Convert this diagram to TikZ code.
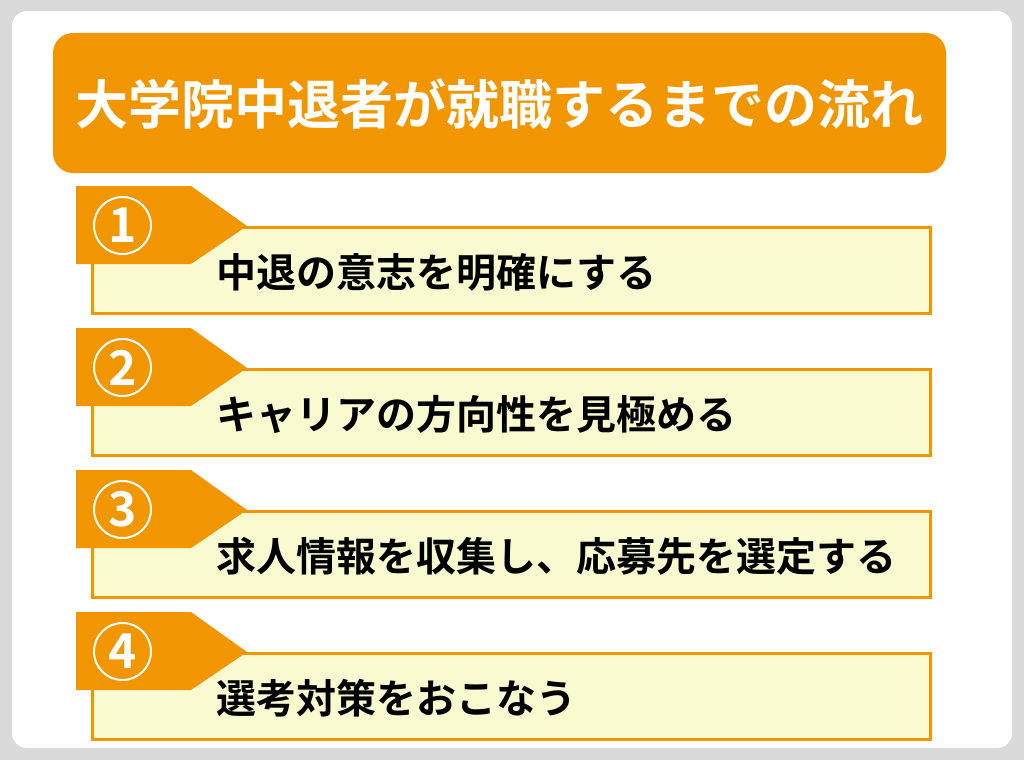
\documentclass[tikz,border=0pt]{standalone}
\usepackage{fontspec}
\newfontfamily\cjk{Noto Sans CJK JP}[BoldFont={Noto Sans CJK JP Bold}]
\definecolor{bgray}{HTML}{D9D9D9}
\definecolor{orng}{HTML}{F29600}
\definecolor{lyel}{HTML}{FAFAD0}
\tikzset{
  tabshape/.style={fill=orng, draw=none},
  stepbox/.style={fill=lyel, draw=orng, line width=3pt},
  numcircle/.style={circle, draw=white, line width=2pt, minimum size=57pt, inner sep=0pt,
    text=white, font=\cjk\bfseries\fontsize{48}{48}\selectfont},
  steptext/.style={anchor=west, inner sep=0pt, text=black, font=\cjk\bfseries\fontsize{40}{40}\selectfont},
  titletext/.style={inner sep=0pt, text=white, font=\cjk\bfseries\fontsize{53}{54}\selectfont}
}
\begin{document}
\begin{tikzpicture}[x=1pt,y=-1pt]
\useasboundingbox (0,0) rectangle (1024,760);
\fill[bgray] (0,0) rectangle (1024,760);
\fill[white, rounded corners=15pt] (12,11) rectangle (1012,748);
% title
\fill[orng, rounded corners=20pt] (53,33) rectangle (946,173);
\node[titletext] (title) at (499.5,104) {大学院中退者が就職するまでの流れ};
% steps
\foreach \i/\t in {0/中退の意志を明確にする,1/キャリアの方向性を見極める,2/求人情報を収集し、応募先を選定する,3/選考対策をおこなう}{
  \pgfmathsetmacro{\oy}{142*\i}
  \begin{scope}[yshift=-\oy pt]
    \draw[stepbox] (92.5,227.5) rectangle (930.5,313);
    \fill[tabshape] (76,186) -- (191,186) -- (247,226) -- (191,264) -- (76,264) -- cycle;
    \pgfmathtruncatemacro{\n}{\i+1}
    \node[numcircle] (num\n) at (122.5,225.5) {\n};
    \node[steptext] (txt\n) at (216,272) {\t};
  \end{scope}
}
\end{tikzpicture}
\end{document}
